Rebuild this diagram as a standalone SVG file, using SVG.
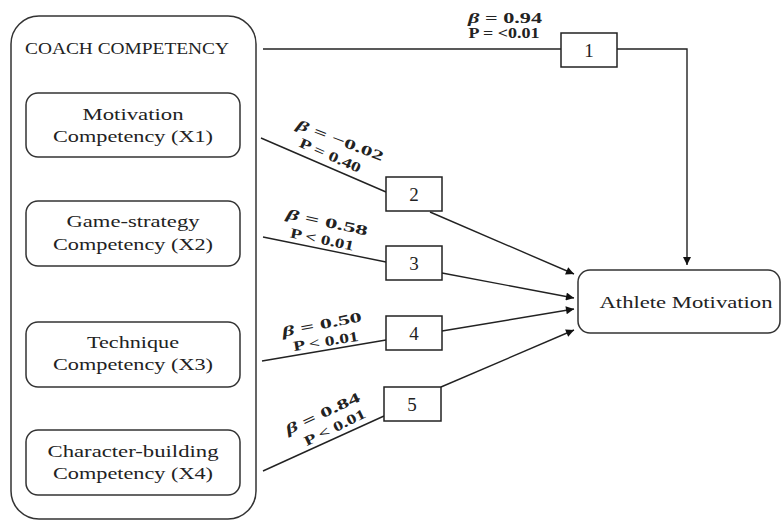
<svg xmlns="http://www.w3.org/2000/svg" width="781" height="521" viewBox="0 0 781 521">
<style>
.box{fill:#fff;stroke:#333;stroke-width:1.5}
.nbox{fill:#fff;stroke:#222;stroke-width:1.5}
.t{font-family:"Liberation Serif","Times New Roman",serif;fill:#222;font-size:17px}
.n{font-size:19px}
.c{text-anchor:middle}
.lb{font-family:"Liberation Serif","Times New Roman",serif;fill:#222;font-size:14px;font-weight:bold;text-anchor:middle}
.ln{fill:none;stroke:#222;stroke-width:1.4}
</style>
<defs>
<marker id="ah" viewBox="0 0 10 10" refX="10" refY="5" markerWidth="10" markerHeight="8" markerUnits="userSpaceOnUse" orient="auto">
<path d="M0,0 L10,5 L0,10 Z" fill="#111"/>
</marker>
</defs>
<rect width="781" height="521" fill="#fff"/>
<g id="coach-competency">
<rect class="box" x="11" y="16" width="245" height="503" rx="28" ry="28"/>
<text class="t" x="25" y="54" font-size="16" textLength="204" lengthAdjust="spacingAndGlyphs">COACH COMPETENCY</text>
</g>
<g id="x1">
<rect class="box" x="26" y="93" width="214" height="64" rx="12" ry="12"/>
<text class="t c" x="133" y="120" textLength="101" lengthAdjust="spacingAndGlyphs">Motivation</text>
<text class="t c" x="133" y="142" textLength="160" lengthAdjust="spacingAndGlyphs">Competency (X1)</text>
</g>
<g id="x2">
<rect class="box" x="26" y="201" width="214" height="65" rx="12" ry="12"/>
<text class="t c" x="133" y="227" textLength="133" lengthAdjust="spacingAndGlyphs">Game-strategy</text>
<text class="t c" x="133" y="250" textLength="160" lengthAdjust="spacingAndGlyphs">Competency (X2)</text>
</g>
<g id="x3">
<rect class="box" x="26" y="322" width="214" height="65" rx="12" ry="12"/>
<text class="t c" x="133" y="348" textLength="92" lengthAdjust="spacingAndGlyphs">Technique</text>
<text class="t c" x="133" y="370" textLength="160" lengthAdjust="spacingAndGlyphs">Competency (X3)</text>
</g>
<g id="x4">
<rect class="box" x="26" y="430" width="214" height="65" rx="12" ry="12"/>
<text class="t c" x="133" y="457" textLength="171" lengthAdjust="spacingAndGlyphs">Character-building</text>
<text class="t c" x="133" y="479" textLength="160" lengthAdjust="spacingAndGlyphs">Competency (X4)</text>
</g>
<g id="athlete-motivation">
<rect class="box" x="578" y="270" width="202" height="63" rx="12" ry="12"/>
<text class="t c" x="686" y="308" textLength="173" lengthAdjust="spacingAndGlyphs">Athlete Motivation</text>
</g>
<g id="connectors">
<path class="ln" d="M263,49 H561"/>
<path class="ln" d="M617,49 H687 V265" marker-end="url(#ah)"/>
<path class="ln" d="M261,138 L386,192"/>
<path class="ln" d="M263,237 L386,262"/>
<path class="ln" d="M262,361 L386,340"/>
<path class="ln" d="M263,471 L384,416"/>
<path class="ln" d="M430,212 L574,274" marker-end="url(#ah)"/>
<path class="ln" d="M442,273 L574,298" marker-end="url(#ah)"/>
<path class="ln" d="M442,331 L574,309" marker-end="url(#ah)"/>
<path class="ln" d="M441,387 L574,330" marker-end="url(#ah)"/>
</g>
<g id="path-1">
<rect class="nbox" x="561" y="33" width="56" height="34"/>
<text class="t c n" x="589" y="57">1</text>
<text class="lb" x="505" y="23" textLength="74" lengthAdjust="spacingAndGlyphs"><tspan font-style="italic">β</tspan> = 0.94</text>
<text class="lb" x="504" y="38" textLength="71" lengthAdjust="spacingAndGlyphs">P = &lt;0.01</text>
</g>
<g id="path-2">
<rect class="nbox" x="386" y="177" width="56" height="34"/>
<text class="t c n" x="414" y="201">2</text>
<text class="lb" transform="translate(340,141) rotate(21)" y="4" textLength="92" lengthAdjust="spacingAndGlyphs"><tspan font-style="italic">β</tspan> = −0.02</text>
<text class="lb" transform="translate(330,156) rotate(24)" y="4" textLength="66" lengthAdjust="spacingAndGlyphs">P = 0.40</text>
</g>
<g id="path-3">
<rect class="nbox" x="386" y="246" width="56" height="34"/>
<text class="t c n" x="414" y="270">3</text>
<text class="lb" transform="translate(327,223) rotate(12)" y="4" textLength="83" lengthAdjust="spacingAndGlyphs"><tspan font-style="italic">β</tspan> = 0.58</text>
<text class="lb" transform="translate(322,240) rotate(12)" y="4" textLength="65" lengthAdjust="spacingAndGlyphs">P &lt; 0.01</text>
</g>
<g id="path-4">
<rect class="nbox" x="386" y="316" width="56" height="34"/>
<text class="t c n" x="414" y="340">4</text>
<text class="lb" transform="translate(322,325) rotate(-11)" y="4" textLength="81" lengthAdjust="spacingAndGlyphs"><tspan font-style="italic">β</tspan> = 0.50</text>
<text class="lb" transform="translate(326,342) rotate(-9)" y="4" textLength="66" lengthAdjust="spacingAndGlyphs">P &lt; 0.01</text>
</g>
<g id="path-5">
<rect class="nbox" x="384" y="387" width="57" height="34"/>
<text class="t c n" x="412" y="411">5</text>
<text class="lb" transform="translate(323,414) rotate(-25)" y="4" textLength="81" lengthAdjust="spacingAndGlyphs"><tspan font-style="italic">β</tspan> = 0.84</text>
<text class="lb" transform="translate(335,428) rotate(-26)" y="4" textLength="67" lengthAdjust="spacingAndGlyphs">P &lt; 0.01</text>
</g>
</svg>
